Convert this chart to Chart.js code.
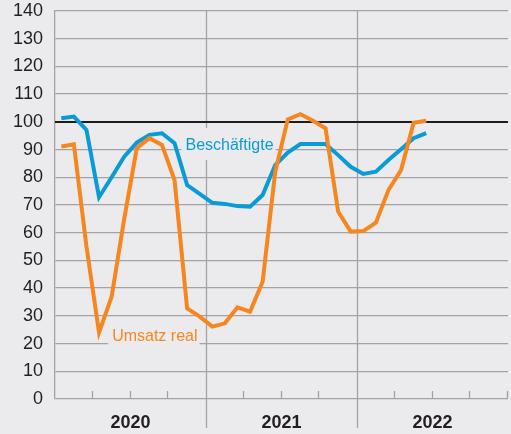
<!DOCTYPE html>
<html>
<head>
<meta charset="utf-8">
<script src="https://cdn.jsdelivr.net/npm/chart.js@4/dist/chart.umd.min.js"></script>
<style>
  html, body { margin: 0; padding: 0; background: #ebebed; }
  #wrap { width: 511px; height: 434px; }
</style>
</head>
<body>
<div id="wrap"><canvas id="c" width="511" height="434"></canvas></div>
<script>
// ---- data ----
const years = ['2020', '2021', '2022'];
const months = [
  '2020-01','2020-02','2020-03','2020-04','2020-05','2020-06','2020-07','2020-08','2020-09','2020-10','2020-11','2020-12',
  '2021-01','2021-02','2021-03','2021-04','2021-05','2021-06','2021-07','2021-08','2021-09','2021-10','2021-11','2021-12',
  '2022-01','2022-02','2022-03','2022-04','2022-05','2022-06'
];
const beschaeftigte = [101.3, 101.9, 97.1, 72.8, 80.0, 87.4, 92.5, 95.3, 95.9, 92.3, 77.2, 74.0,
                       70.8, 70.4, 69.6, 69.4, 73.6, 84.4, 88.9, 92.0, 92.0, 92.0, 88.0, 83.8,
                       81.2, 82.0, 86.2, 90.1, 94.1, 95.9];
const umsatzReal = [91.1, 91.9, 55.0, 24.0, 36.9, 65.0, 90.5, 94.1, 91.7, 79.0, 32.7, 29.7,
                    26.1, 27.3, 33.1, 31.5, 42.3, 82.0, 100.9, 102.8, 100.4, 97.7, 67.6, 60.4,
                    60.6, 63.6, 75.4, 82.6, 99.7, 100.4];
const yTicks = [0, 10, 20, 30, 40, 50, 60, 70, 80, 90, 100, 110, 120, 130, 140];

const BG = '#ebebed';
const GRID = '#a3a3a5';
const BLUE = '#0a9bd7';
const ORANGE = '#f6861f';
const TEXT = '#231f20';
const FONT = '"Liberation Sans", Arial, sans-serif';

const toPoints = arr => arr.map((v, i) => ({ x: i + 0.5, y: v }));

const decor = {
  id: 'decor',
  beforeDraw(chart) {
    const ctx = chart.ctx;
    ctx.save();
    ctx.fillStyle = BG;
    ctx.fillRect(0, 0, chart.width, chart.height);
    ctx.restore();
  },
  beforeDatasetsDraw(chart) {
    const ctx = chart.ctx;
    const xs = chart.scales.x, ys = chart.scales.y;
    const top = chart.chartArea.top, bottom = chart.chartArea.bottom;
    ctx.save();
    ctx.strokeStyle = GRID;
    ctx.lineWidth = 1.3;
    for (let m = 12; m < 36; m += 12) {
      const px = Math.round(xs.getPixelForValue(m)) + 0.5;
      ctx.beginPath(); ctx.moveTo(px, top); ctx.lineTo(px, bottom + 29); ctx.stroke();
    }
    for (let m = 3; m <= 36; m += 3) {
      if (m % 12 === 0 && m < 36) continue;
      const px = Math.round(xs.getPixelForValue(m)) - 0.5;
      ctx.beginPath(); ctx.moveTo(px, bottom); ctx.lineTo(px, bottom - 8); ctx.stroke();
    }
    const labels = [
      { text: 'Beschäftigte', color: BLUE, x: xs.getPixelForValue(10.37), y: ys.getPixelForValue(90) - 4, boxTop: ys.getPixelForValue(97.8), boxBot: ys.getPixelForValue(86.2) },
      { text: 'Umsatz real', color: ORANGE, x: xs.getPixelForValue(4.54), y: ys.getPixelForValue(20) - 7, boxTop: ys.getPixelForValue(26.5), boxBot: ys.getPixelForValue(18.5) }
    ];
    ctx.font = '16px ' + FONT;
    ctx.textBaseline = 'middle';
    ctx.textAlign = 'left';
    labels.forEach(l => {
      const w = ctx.measureText(l.text).width;
      ctx.fillStyle = BG;
      ctx.fillRect(l.x - 4, l.boxTop, w + 6, l.boxBot - l.boxTop);
      ctx.fillStyle = l.color;
      ctx.fillText(l.text, l.x, l.y);
    });
    const py = Math.round(ys.getPixelForValue(100));
    ctx.strokeStyle = '#1c1c1c';
    ctx.lineWidth = 2;
    ctx.beginPath(); ctx.moveTo(chart.chartArea.left, py); ctx.lineTo(chart.chartArea.right, py); ctx.stroke();
    ctx.restore();
  }
};

new Chart(document.getElementById('c'), {
  type: 'line',
  data: {
    labels: months,
    datasets: [
      { label: 'Umsatz real', data: toPoints(umsatzReal), borderColor: ORANGE, borderWidth: 4, pointRadius: 0, tension: 0, fill: false },
      { label: 'Beschäftigte', data: toPoints(beschaeftigte), borderColor: BLUE, borderWidth: 4, pointRadius: 0, tension: 0, fill: false }
    ]
  },
  options: {
    responsive: false,
    animation: false,
    devicePixelRatio: 1,
    layout: { padding: { top: 11, right: 3, left: 0, bottom: 0 } },
    plugins: { legend: { display: false }, tooltip: { enabled: false } },
    scales: {
      x: {
        type: 'linear',
        min: 0, max: 36,
        grid: { display: true, drawOnChartArea: false, drawTicks: true, tickLength: 13, color: 'rgba(0,0,0,0)', tickColor: 'rgba(0,0,0,0)' },
        border: { display: false },
        ticks: {
          stepSize: 6, autoSkip: false, maxRotation: 0, padding: 0,
          color: TEXT, font: { family: FONT, size: 18, weight: 'bold' },
          callback: v => (v % 12 === 6 ? years[(v - 6) / 12] : '')
        },
        afterFit: s => { s.height = 35; }
      },
      y: {
        min: 0, max: 140,
        afterBuildTicks: s => { s.ticks = yTicks.map(v => ({ value: v })); },
        grid: { drawTicks: true, tickLength: 12, tickColor: 'rgba(0,0,0,0)', color: GRID, lineWidth: 1.3 },
        border: { display: true, color: GRID, width: 1.3 },
        ticks: { padding: 0, color: TEXT, font: { family: FONT, size: 18 } },
        afterFit: s => { s.width = 55; }
      }
    }
  },
  plugins: [decor]
});
</script>
</body>
</html>
